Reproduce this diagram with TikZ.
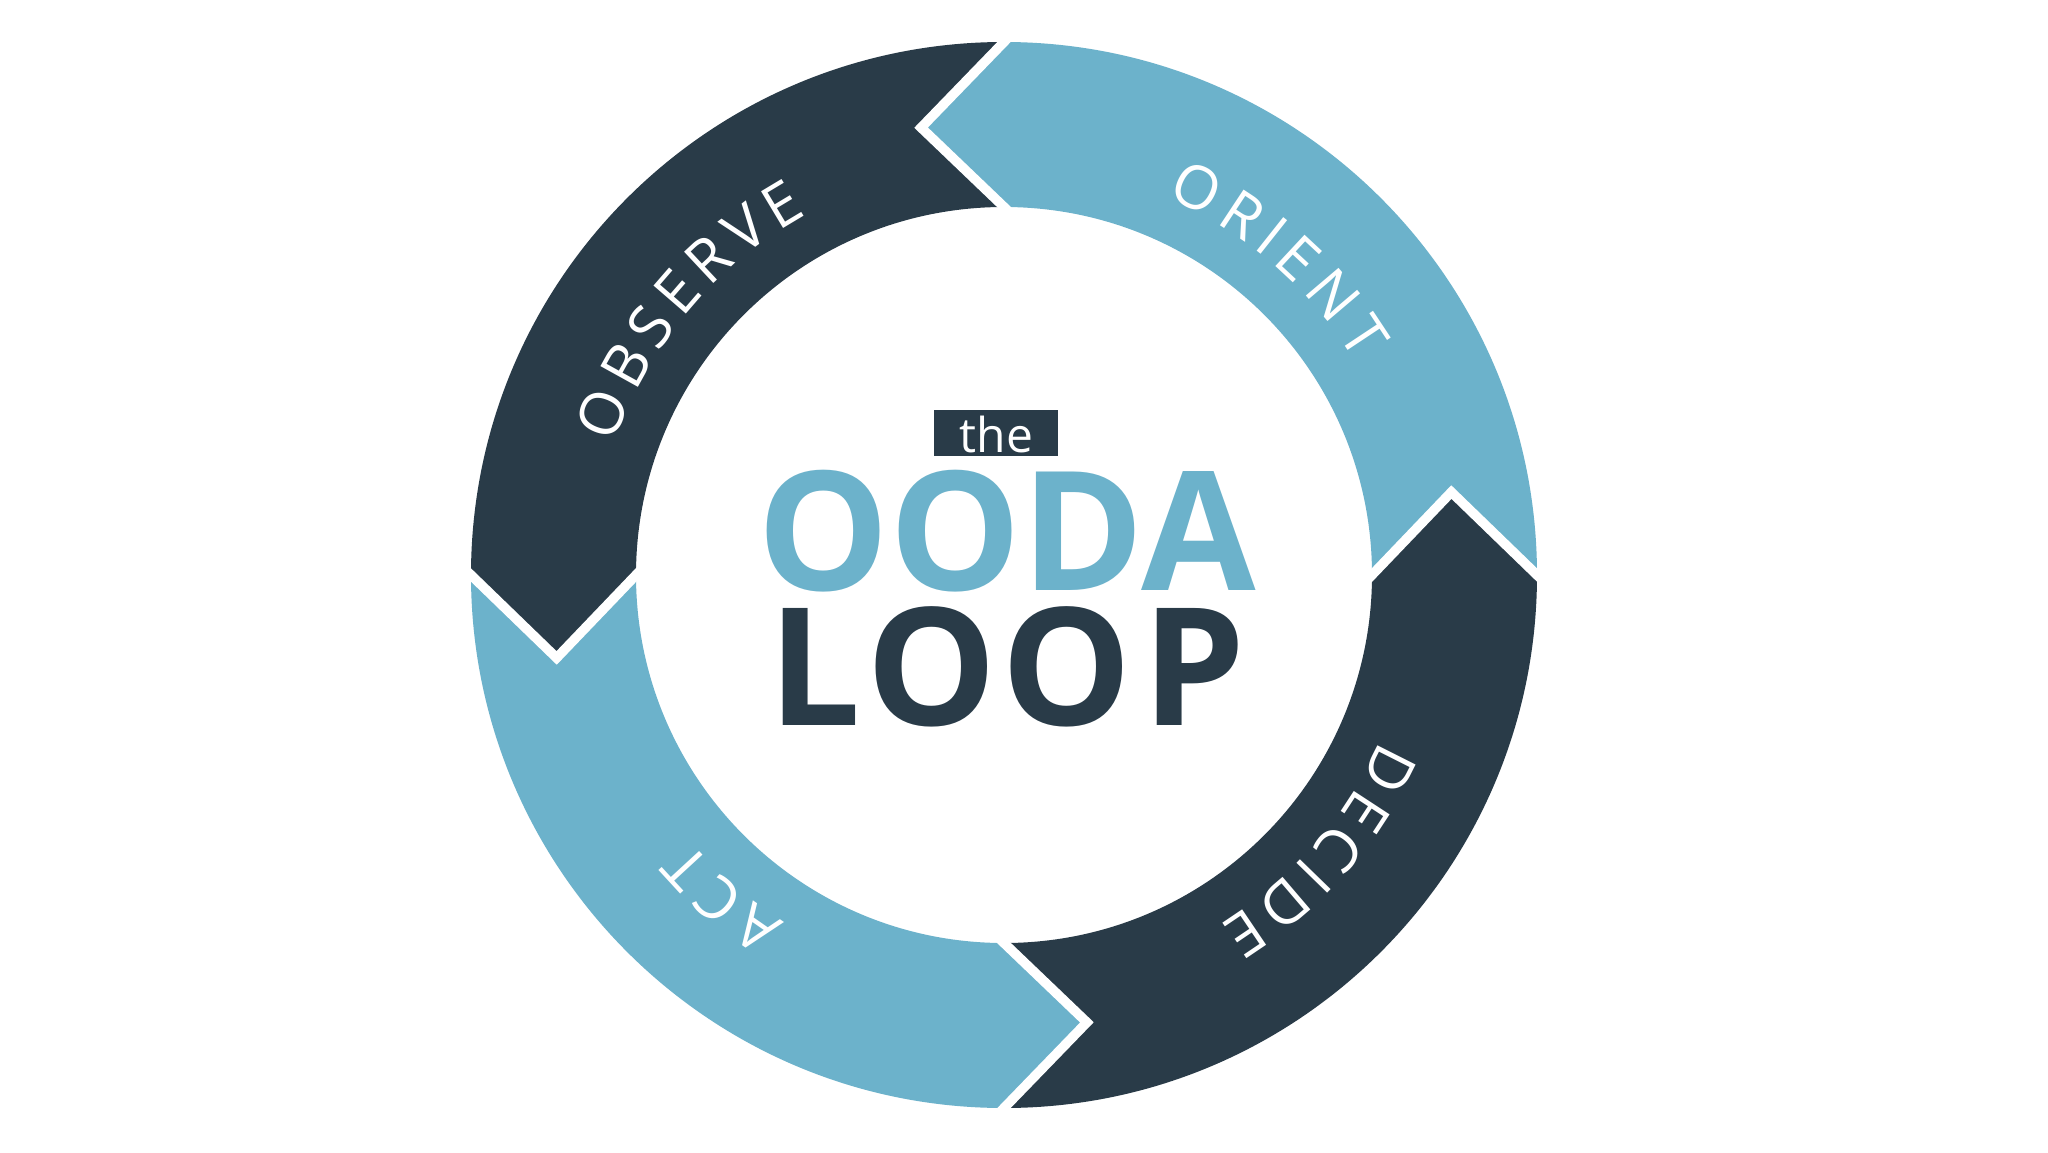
\documentclass[tikz,border=0pt]{standalone}
\usepackage{fontspec}
\setmainfont{Open Sans}
\usetikzlibrary{calc}
\definecolor{oodadark}{HTML}{293B48}
\definecolor{oodalight}{HTML}{6CB2CB}
\def\ringsize{30}
\newcommand{\ringfont}{\fontsize{30pt}{34pt}\selectfont}
\tikzset{
  seam/.style={draw=white, line width=4.8pt, line join=miter, miter limit=20},
  ringletter/.style={anchor=base, inner sep=0pt, text=white, font=\ringfont},
}
% #1 name prefix, #2 letter/width(em) list, #3 centre angle, #4 baseline radius, #5 extra spacing (pt)
\newcommand{\ringword}[5]{%
  \gdef\ringtot{0}%
  \foreach \ch/\ringw in {#2}{%
    \pgfmathsetmacro{\ringtmp}{\ringtot+\ringw*\ringsize+#5}%
    \xdef\ringtot{\ringtmp}%
  }%
  \pgfmathsetmacro{\ringrb}{#4*0.5}%
  \pgfmathsetmacro{\ringtmp}{#3+((\ringtot-#5)/2)/\ringrb*180/pi}%
  \xdef\ringang{\ringtmp}%
  \foreach \ch/\ringw [count=\ringi] in {#2}{%
    \pgfmathsetmacro{\ringa}{\ringang-(\ringw*\ringsize/2)/\ringrb*180/pi}%
    \node[ringletter, rotate=\ringa-90] (#1\ringi) at (\ringa:#4) {\ch};
    \pgfmathsetmacro{\ringb}{\ringang-(\ringw*\ringsize+#5)/\ringrb*180/pi}%
    \xdef\ringang{\ringb}%
  }%
}
\begin{document}
\begin{tikzpicture}[x=0.5pt, y=0.5pt]
\fill[white] (-1004,-577) rectangle (1044,575);
\useasboundingbox (-1004,-577) rectangle (1044,575);
\def\Ro{533}
\def\Ri{368}
\def\Rt{455}
\def\dd{10.5}
% segments: start angle (notch), fill colour
\foreach \s/\c in {0/oodalight, 90/oodadark, 180/oodalight, 270/oodadark}{
  \pgfmathsetmacro{\e}{\s+90}
  \fill[\c] (\s:\Ro) arc[start angle=\s, end angle=\e, radius=\Ro]
     -- (\e+\dd:\Rt) -- (\e:\Ri)
     arc[start angle=\e, end angle=\s, radius=\Ri]
     -- (\s+\dd:\Rt) -- cycle;
}
% white seams
\foreach \s in {0,90,180,270}{
  \coordinate (tip\s) at (\s+\dd:\Rt);
  \coordinate (out\s) at (\s:\Ro);
  \coordinate (in\s) at (\s:\Ri);
  \draw[seam] ($(tip\s)!1.2!(out\s)$) -- (tip\s) -- ($(tip\s)!1.2!(in\s)$);
}
% ring labels
\ringword{obs}{O/.781,B/.644,S/.550,E/.556,R/.627,V/.593,E/.556}{140}{411}{4}
\ringword{ori}{O/.781,R/.627,I/.276,E/.556,N/.789,T/.557}{49}{411}{4}
\ringword{dec}{D/.722,E/.556,C/.632,I/.276,D/.722,E/.556}{-41}{411}{4}
\ringword{act}{A/.633,C/.632,T/.557}{229}{411}{4}
% centre title
\node[fill=oodadark, minimum width=62pt, minimum height=23pt, inner sep=0pt] (thebox) at (-8,142) {};
\node[anchor=base, text=white, inner sep=0pt, font=\fontsize{24pt}{26pt}\selectfont] (the) at (-7.5,123) {the};
\node[anchor=base, text=oodalight, inner sep=0pt, font=\bfseries\fontsize{83pt}{90pt}\selectfont] (ooda) at (2.5,-15) {OODA};
\node[anchor=base, text=oodadark, inner sep=0pt, font=\bfseries\fontsize{82pt}{90pt}\selectfont] (loop) at (3,-150) {L\kern2.5pt O\kern2.5pt O\kern5pt P};
\end{tikzpicture}
\end{document}
